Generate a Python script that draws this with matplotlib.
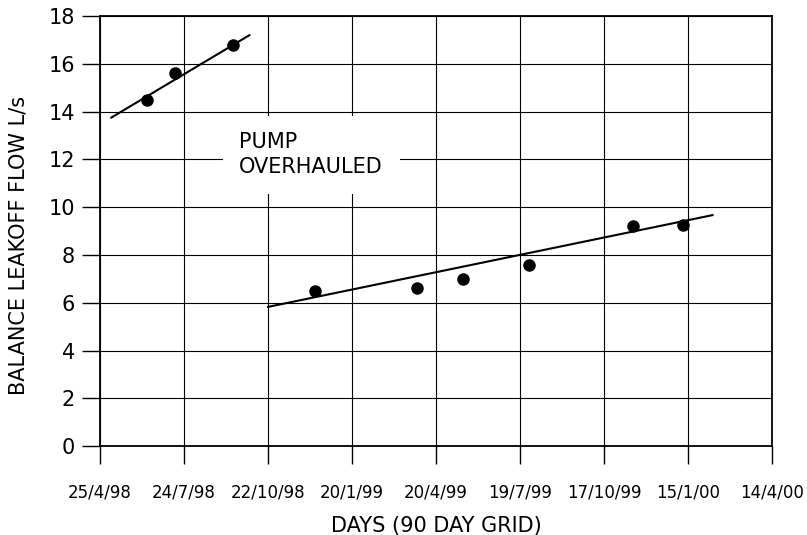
import matplotlib
matplotlib.use("Agg")
import matplotlib.pyplot as plt

# days counted from 25/4/98, grid every 90 days
tick_days = [0, 90, 180, 270, 360, 450, 540, 630, 720]
tick_labels = ["25/4/98", "24/7/98", "22/10/98", "20/1/99", "20/4/99",
               "19/7/99", "17/10/99", "15/1/00", "14/4/00"]

# before overhaul
upper_days = [50, 80, 142]
upper_flow = [14.5, 15.6, 16.8]
upper_fit_days = [12, 160]
upper_fit_flow = [13.75, 17.2]

# after overhaul
lower_days = [230, 339, 389, 459, 571, 624]
lower_flow = [6.5, 6.6, 7.0, 7.6, 9.2, 9.25]
lower_fit_days = [180, 656]
lower_fit_flow = [5.83, 9.67]

plt.rcParams["font.family"] = ["DejaVu Sans"]

fig = plt.figure(figsize=(8.07, 5.35), dpi=100)
ax = fig.add_axes([0.124, 0.166, 0.833, 0.804])

ax.plot(upper_fit_days, upper_fit_flow, color="black", lw=1.5, zorder=3)
ax.plot(lower_fit_days, lower_fit_flow, color="black", lw=1.5, zorder=3)
ax.plot(upper_days, upper_flow, "o", color="black", ms=8, zorder=4)
ax.plot(lower_days, lower_flow, "o", color="black", ms=8, zorder=4)

ax.set_xlim(0, 720)
ax.set_ylim(0, 18)
ax.set_xticks(tick_days)
ax.set_xticklabels(tick_labels, fontsize=12)
ax.set_yticks(range(0, 19, 2))
ax.tick_params(axis="y", labelsize=15, length=13, width=1, pad=5)
ax.tick_params(axis="x", length=13, width=1, pad=14)
ax.grid(True, color="black", lw=0.8)
ax.set_axisbelow(True)
for s in ax.spines.values():
    s.set_linewidth(1.3)

ax.text(149, 12.2, "PUMP\nOVERHAULED", fontsize=15, ha="left", va="center",
        linespacing=1.3, zorder=2,
        bbox=dict(boxstyle="square,pad=0.8", facecolor="white", edgecolor="none"))

ax.set_xlabel("DAYS (90 DAY GRID)", fontsize=15, labelpad=10)
ax.set_ylabel("BALANCE LEAKOFF FLOW L/s", fontsize=15)
ax.yaxis.set_label_coords(-0.107, 0.467)

fig.savefig("out.png", dpi=100)
